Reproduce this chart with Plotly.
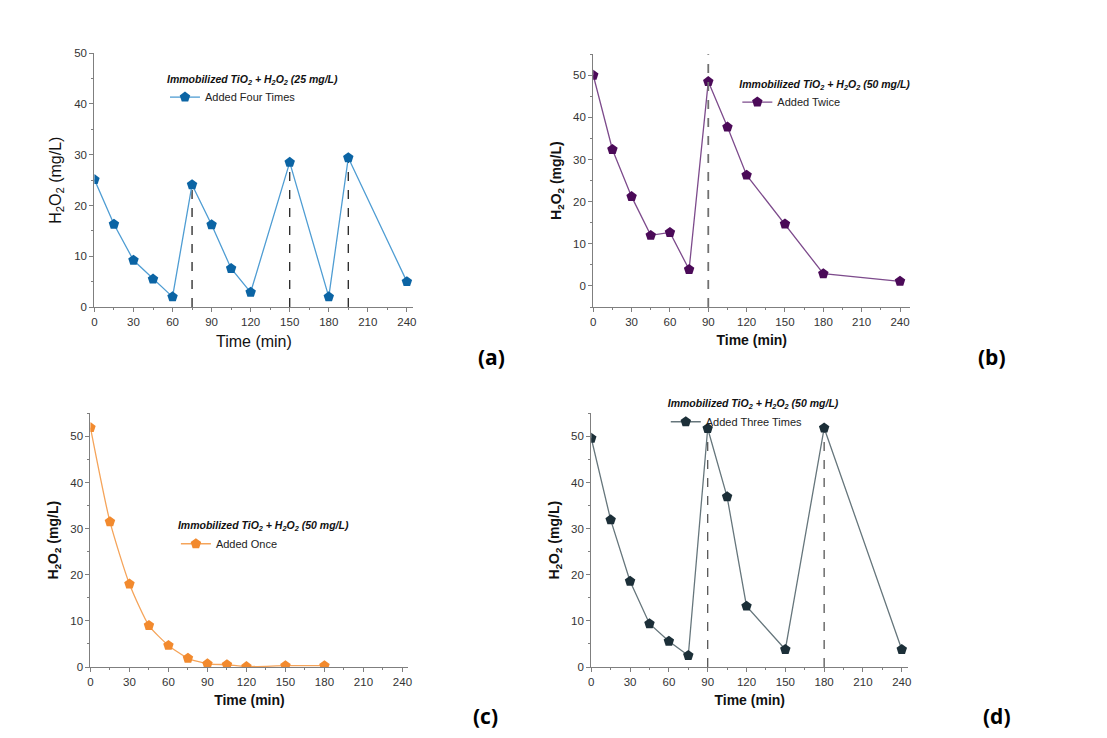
import plotly.graph_objects as go

# ---------------- data ----------------
time_a = [0, 15, 30, 45, 60, 75, 90, 105, 120, 150, 180, 195, 240]
h2o2_a = [25.1, 16.3, 9.2, 5.5, 2.0, 24.1, 16.2, 7.6, 2.9, 28.5, 2.0, 29.4, 5.0]
adds_a = [75, 150, 195]

time_b = [0, 15, 30, 45, 60, 75, 90, 105, 120, 150, 180, 240]
h2o2_b = [50.0, 32.4, 21.2, 12.0, 12.7, 3.9, 48.5, 37.7, 26.3, 14.7, 2.9, 1.1]
adds_b = [90]

time_c = [0, 15, 30, 45, 60, 75, 90, 105, 120, 150, 180]
h2o2_c = [51.9, 31.5, 18.0, 9.0, 4.7, 1.9, 0.7, 0.5, 0.1, 0.3, 0.3]

time_d = [0, 15, 30, 45, 60, 75, 90, 105, 120, 150, 180, 240]
h2o2_d = [49.6, 31.9, 18.6, 9.4, 5.6, 2.5, 51.7, 36.9, 13.2, 3.8, 51.8, 3.8]
adds_d = [90, 180]

x_ticks = [0, 30, 60, 90, 120, 150, 180, 210, 240]
y_ticks = [0, 10, 20, 30, 40, 50]
legend_names = ["Added Four Times", "Added Twice", "Added Once", "Added Three Times"]
legend_titles = ["25 mg/L", "50 mg/L", "50 mg/L", "50 mg/L"]
panel_labels = ["(a)", "(b)", "(c)", "(d)"]

# ---------------- figure ----------------
W, H = 1107, 738
fig = go.Figure()

def px_x(p):
    return p / W

def px_y(p):
    return 1 - p / H

panels = [
    dict(t=time_a, v=h2o2_a, adds=adds_a, marker="#0b64a4", line="#4f9dd3", dash="#222222",
         xd=[px_x(92), px_x(413)], yd=[px_y(306), px_y(48)], xr=[0, 245], yr=[0, 50],
         bold=False, leg=(px_x(163), px_y(64)), lab=(px_x(492), px_y(357)), fullheight=False),
    dict(t=time_b, v=h2o2_b, adds=adds_b, marker="#4b0a58", line="#7d4b8c", dash="#707070",
         xd=[px_x(594), px_x(913)], yd=[px_y(306), px_y(49)], xr=[0, 248], yr=[-5, 55],
         bold=True, leg=(px_x(739), px_y(69)), lab=(px_x(995), px_y(357)), fullheight=True),
    dict(t=time_c, v=h2o2_c, adds=[], marker="#f28a2e", line="#f5a45a", dash="#222222",
         xd=[px_x(88), px_x(408)], yd=[px_y(672), px_y(414)], xr=[0, 244.6], yr=[0, 55],
         bold=True, leg=(px_x(174), px_y(518)), lab=(px_x(486), px_y(722)), fullheight=False),
    dict(t=time_d, v=h2o2_d, adds=adds_d, marker="#1c2f38", line="#66767c", dash="#555555",
         xd=[px_x(592), px_x(911)], yd=[px_y(672), px_y(414)], xr=[0, 245], yr=[0, 55],
         bold=True, leg=(px_x(667), px_y(394)), lab=(px_x(1000), px_y(722)), fullheight=False),
]

layout_upd = {}
for i, p in enumerate(panels):
    n = i + 1
    xa = "x" if n == 1 else f"x{n}"
    ya = "y" if n == 1 else f"y{n}"
    xk = "xaxis" if n == 1 else f"xaxis{n}"
    yk = "yaxis" if n == 1 else f"yaxis{n}"
    lk = "legend" if n == 1 else f"legend{n}"

    # dashed addition lines
    for a in p["adds"]:
        if p["fullheight"]:
            fig.add_shape(type="line", xref=xa, yref=f"{ya} domain", x0=a, x1=a, y0=0, y1=1,
                          line=dict(color=p["dash"], width=1.8, dash="dash"))
        else:
            peak = p["v"][p["t"].index(a)]
            fig.add_trace(go.Scatter(x=[a, a], y=[0, peak], xaxis=xa, yaxis=ya, mode="lines",
                                     line=dict(color=p["dash"], width=1.3, dash="dash"),
                                     showlegend=False, hoverinfo="skip"))

    fig.add_trace(go.Scatter(
        x=p["t"], y=p["v"], xaxis=xa, yaxis=ya, mode="lines+markers",
        name=legend_names[i], legend=lk,
        line=dict(color=p["line"], width=1.3, shape="spline" if n == 3 else "linear", smoothing=0.6),
        marker=dict(symbol="pentagon", size=11, color=p["marker"],
                    line=dict(color=p["marker"], width=0)),
    ))

    title_sz = 14 if p["bold"] else 16
    ytitle = "H<sub>2</sub>O<sub>2</sub> (mg/L)"
    xtitle = "Time (min)"
    if p["bold"]:
        ytitle = "<b>" + ytitle + "</b>"
        xtitle = "<b>" + xtitle + "</b>"

    common = dict(
        showline=True, linecolor="#7f7f7f", linewidth=1.2, showgrid=False, zeroline=False,
        ticks="outside", ticklen=4, tickcolor="#7f7f7f", tickwidth=1,
        tickfont=dict(family="Liberation Sans, Arial", size=11.5, color="#333333"),
        fixedrange=True,
    )
    layout_upd[xk] = dict(
        domain=p["xd"], range=p["xr"], anchor=ya, tickvals=x_ticks,
        minor=dict(ticks="outside", ticklen=2, dtick=15, tick0=0, tickcolor="#7f7f7f", showgrid=False),
        title=dict(text=xtitle, font=dict(family="Liberation Sans, Arial", size=title_sz, color="#111111"),
                   standoff=8),
        **common,
    )
    layout_upd[yk] = dict(
        domain=p["yd"], range=p["yr"], anchor=xa, tickvals=y_ticks,
        minor=dict(ticks="outside", ticklen=2, dtick=5, tick0=0, tickcolor="#7f7f7f", showgrid=False),
        title=dict(text=ytitle, font=dict(family="Liberation Sans, Arial", size=title_sz, color="#111111"),
                   standoff=8),
        **common,
    )
    layout_upd[lk] = dict(
        x=p["leg"][0], y=p["leg"][1], xanchor="left", yanchor="top",
        bgcolor="rgba(0,0,0,0)", borderwidth=0,
        title=dict(text=f"<b><i>Immobilized TiO<sub>2</sub> + H<sub>2</sub>O<sub>2</sub> ({legend_titles[i]})</i></b>",
                   side="top", font=dict(family="Liberation Sans, Arial", size=10.5, color="#111111")),
        font=dict(family="Liberation Sans, Arial", size=11, color="#222222"),
        itemwidth=30, tracegroupgap=0,
    )

    fig.add_annotation(text=f"<b>{panel_labels[i]}</b>", xref="paper", yref="paper",
                       x=p["lab"][0], y=p["lab"][1], xanchor="center", yanchor="middle",
                       showarrow=False, font=dict(family="Open Sans, Liberation Sans", size=21, color="#000000"))

fig.update_layout(
    width=W, height=H, autosize=False,
    margin=dict(l=0, r=0, t=0, b=0),
    paper_bgcolor="white", plot_bgcolor="white",
    **layout_upd,
)

fig.write_html("out.html", config={"displayModeBar": False},
               post_script="document.body.style.margin='0px';")
